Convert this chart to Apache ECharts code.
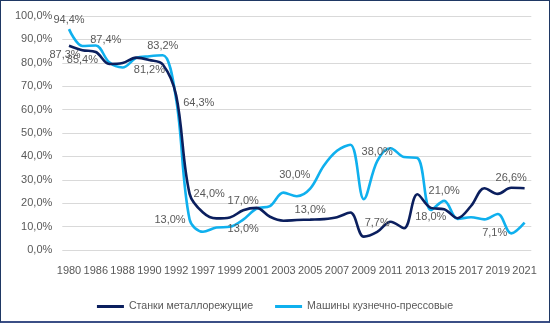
<!DOCTYPE html>
<html><head><meta charset="utf-8">
<script src="https://cdn.jsdelivr.net/npm/echarts@6/dist/echarts.min.js"></script>
<style>
html,body{margin:0;padding:0;background:#fff;}
#c{width:550px;height:323px;position:relative;}
#frame{position:absolute;left:0;top:0;width:550px;height:323px;box-sizing:border-box;border:1.5px solid #1F3864;border-bottom:2px solid #3b4f86;pointer-events:none;}
</style></head>
<body>
<div style="position:relative;width:550px;height:323px;">
<div id="c"></div><div id="frame"></div>
</div>
<script>
const categories = ['1980','1985','1986','1987','1988','1989','1990','1991','1992','1995','1997','1998','1999','2000','2001','2002','2003','2004','2005','2006','2007','2008','2009','2010','2011','2012','2013','2014','2015','2016','2017','2018','2019','2020','2021'];
const seriesNames = ['Станки металлорежущие','Машины кузнечно-прессовые'];
const stanki = [87.3,85.4,84.6,79.5,79.9,82.2,81.2,79.3,66.0,24.0,16.0,13.5,13.9,17.0,18.0,14.2,12.5,12.8,13.0,13.2,14.0,16.0,5.7,7.7,12.1,9.3,23.8,18.0,17.4,13.6,18.8,26.4,24.0,26.6,26.4];
const kuznechno = [94.4,87.2,87.4,80.2,78.0,82.0,82.8,83.2,64.3,13.0,7.8,9.6,9.9,13.0,17.7,18.8,24.5,23.0,26.2,35.9,42.4,45.0,21.7,38.0,43.5,39.7,39.3,17.1,21.0,13.3,14.0,13.1,15.4,7.1,11.7];
const stankiLabels = ['87,3%','85,4%',null,null,null,null,'81,2%',null,null,'24,0%',null,null,null,'17,0%',null,null,null,null,'13,0%',null,null,null,null,'7,7%',null,null,null,'18,0%',null,null,null,null,null,'26,6%',null];
const kuznechnoLabels = ['94,4%',null,'87,4%',null,null,null,null,'83,2%','64,3%','13,0%',null,null,null,'13,0%',null,null,null,'30,0%',null,null,null,null,null,'38,0%',null,null,null,null,'21,0%',null,null,null,null,'7,1%',null];

const stankiPos = {0:'bottom',1:'bottom',6:'bottom',9:'right',13:'top',18:'top',23:'top',27:'bottom',33:'top'};
const kuznechnoPos = {0:'top',2:'top',7:'top',8:'right',9:'left',13:'bottom',17:'top',23:'top',28:'top',33:'left'};
const offsets = {k2:[10,4], k17:[-2,-12], s0:[-4,0], k8:[3,3]};

function build(values, labels, posMap, key){
  return values.map((v,i)=>{
    const o = {value:v};
    if(labels[i]){
      const off = offsets[key+i] || [0,0];
      o.label = {show:true, position:posMap[i], formatter:labels[i], offset:off};
    }
    return o;
  });
}
const colors = ['#0B1F5E','#0FB0EE'];
const chart = echarts.init(document.getElementById('c'), null, {renderer:'canvas'});
const font = 'Liberation Sans, Arial, sans-serif';
chart.setOption({
  animation:false,
  textStyle:{fontFamily:font},
  grid:{left:62.3,right:18.7,top:16,bottom:73},
  xAxis:{type:'category',data:categories,boundaryGap:true,
    axisLine:{show:false},axisTick:{show:false},
    axisLabel:{interval:1,color:'#595959',fontSize:11,fontFamily:font,margin:15}},
  yAxis:{type:'value',min:0,max:100,interval:10,
    axisLabel:{color:'#595959',fontSize:11,fontFamily:font,margin:10,formatter:v=>v.toFixed(1).replace('.',',')+'%'},
    splitLine:{lineStyle:{color:'#D9D9D9',width:1}},axisLine:{show:false},axisTick:{show:false}},
  legend:{bottom:6,left:'center',icon:'rect',itemWidth:27,itemHeight:3,itemGap:22,
    textStyle:{color:'#595959',fontSize:10.6,fontFamily:font},data:seriesNames},
  series:[
    {name:seriesNames[0],type:'line',smooth:0.35,symbol:'circle',symbolSize:0,showAllSymbol:true,
     lineStyle:{color:colors[0],width:2.6},itemStyle:{color:colors[0]},
     label:{color:'#595959',fontSize:11,fontFamily:font,distance:4},
     data:build(stanki,stankiLabels,stankiPos,'s'),z:3},
    {name:seriesNames[1],type:'line',smooth:0.35,symbol:'circle',symbolSize:0,showAllSymbol:true,
     lineStyle:{color:colors[1],width:2.6},itemStyle:{color:colors[1]},
     label:{color:'#595959',fontSize:11,fontFamily:font,distance:4},
     data:build(kuznechno,kuznechnoLabels,kuznechnoPos,'k'),z:2}
  ]
});
</script>
</body></html>
